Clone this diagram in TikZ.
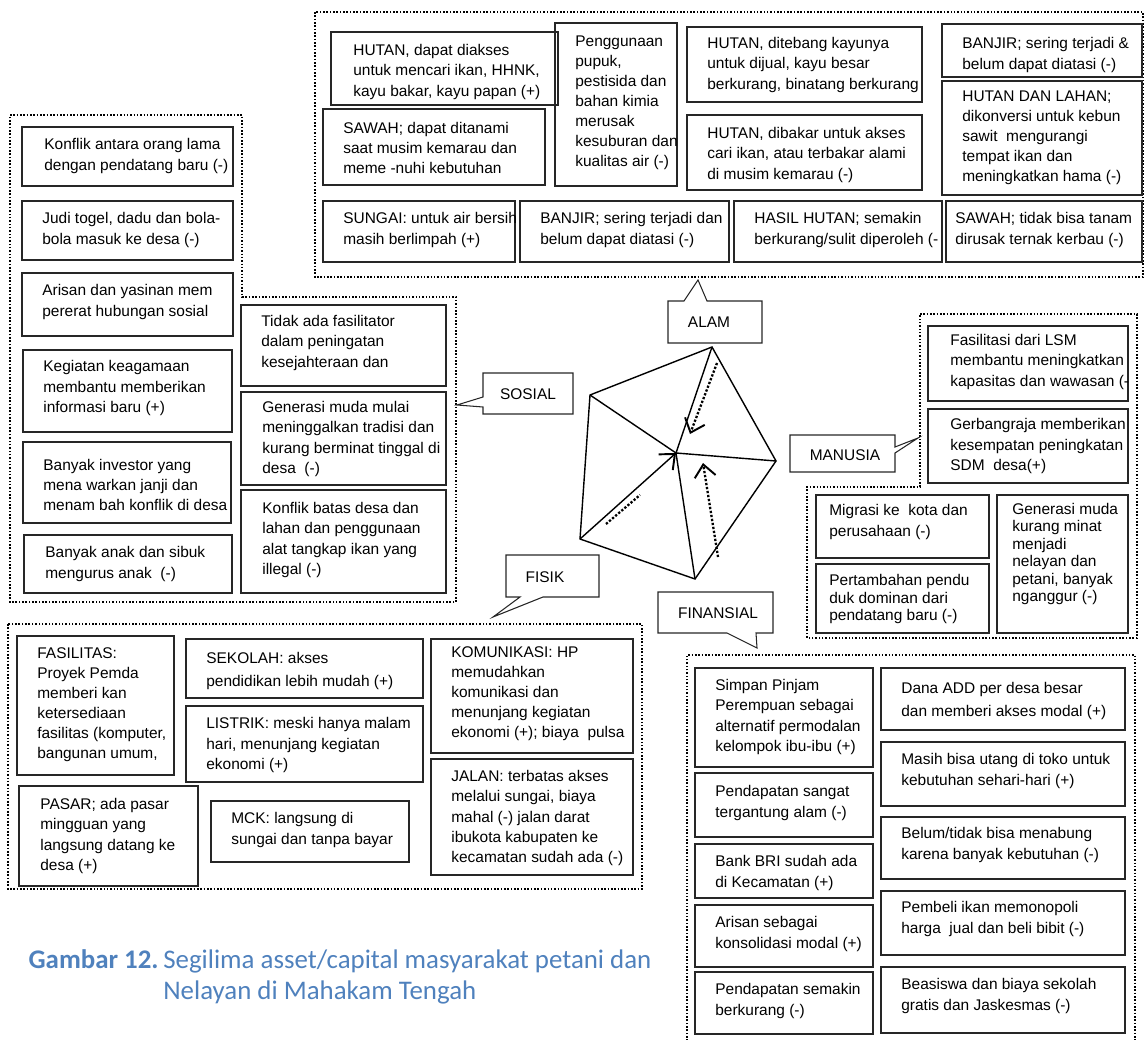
\documentclass[tikz,border=0pt]{standalone}
\usepackage{fontspec}
\setmainfont{Liberation Sans}
\newfontfamily\capfont{Carlito}
\usetikzlibrary{arrows.meta}
\definecolor{capblue}{HTML}{4F81BD}

\begin{document}
\begin{tikzpicture}[x=0.02cm,y=-0.02cm,
  grp/.style={densely dotted,line width=0.9pt},
  cell/.style={draw=black!85,line width=0.6pt},
  txt/.style={anchor=west,align=left,inner sep=0pt,font=\fontsize{8.8}{11.4}\selectfont},
  call/.style={draw=black!85,line width=0.6pt},
  lab/.style={inner sep=0pt,font=\fontsize{8.8}{11}\selectfont},
  pent/.style={line width=0.8pt},
  dots/.style={densely dotted,line width=1.3pt},
  barb/.style={-{Straight Barb[length=7pt,width=12pt,line width=1.1pt]}},
  captxt/.style={inner sep=0pt,text=capblue,font=\capfont\fontsize{15.3}{18}\selectfont}]
  \useasboundingbox (0,0) rectangle (1145,1040);
  % ALAM
  \draw[grp] (315,12) rectangle (1143,277);
  \draw[cell] (331,32) rectangle (558,105);
  \node[txt] (a1) at (353,72) {HUTAN, dapat diakses\\untuk mencari ikan, HHNK,\\kayu bakar, kayu papan (+)};
  \draw[cell] (323,109) rectangle (545,185);
  \node[txt] (a2) at (343,148) {SAWAH; dapat ditanami\\saat musim kemarau dan\\meme -nuhi kebutuhan};
  \draw[cell] (555,23) rectangle (677,186);
  \node[txt] (a3) at (575,103) {Penggunaan\\pupuk,\\pestisida dan\\bahan kimia\\merusak\\kesuburan dan\\kualitas air (-)};
  \draw[cell] (687,27) rectangle (922,102);
  \node[txt] (a4) at (707,65) {HUTAN, ditebang kayunya\\untuk dijual, kayu besar\\berkurang, binatang berkurang};
  \draw[cell] (687,115) rectangle (922,190);
  \node[txt] (a5) at (707,155) {HUTAN, dibakar untuk akses\\cari ikan, atau terbakar alami\\di musim kemarau (-)};
  \draw[cell] (942,24) rectangle (1142,77);
  \node[txt] (a6) at (962,55) {BANJIR; sering terjadi \&\\belum dapat diatasi (-)};
  \draw[cell] (942,81) rectangle (1142,195);
  \node[txt] (a7) at (962,138) {HUTAN DAN LAHAN;\\dikonversi untuk kebun\\sawit~ mengurangi\\tempat ikan dan\\meningkatkan hama (-)};
  \draw[cell] (323,201) rectangle (515,262);
  \node[txt] (a8) at (343,230) {SUNGAI: untuk air bersih\\masih berlimpah (+)};
  \draw[cell] (520,201) rectangle (729,262);
  \node[txt] (a9) at (540,230) {BANJIR; sering terjadi dan\\belum dapat diatasi (-)};
  \draw[cell] (734,201) rectangle (942,262);
  \node[txt] (a10) at (754,230) {HASIL HUTAN; semakin\\berkurang/sulit diperoleh (-};
  \draw[cell] (946,201) rectangle (1142,262);
  \node[txt] (a11) at (955,230) {SAWAH; tidak bisa tanam\\dirusak ternak kerbau (-)};
  % SOSIAL
  \draw[grp] (10,115) -- (242,115) -- (242,297) -- (456,297) -- (456,602) -- (10,602) -- cycle;
  \draw[cell] (22,127) rectangle (233,186);
  \node[txt] (s1) at (44,156) {Konflik antara orang lama\\dengan pendatang baru (-)};
  \draw[cell] (22,201) rectangle (233,260);
  \node[txt] (s2) at (42,230) {Judi togel, dadu dan bola-\\bola masuk ke desa (-)};
  \draw[cell] (22,273) rectangle (233,336);
  \node[txt] (s3) at (42,302) {Arisan dan yasinan mem\\pererat hubungan sosial};
  \draw[cell] (23,350) rectangle (232,432);
  \node[txt] (s4) at (43,388) {Kegiatan keagamaan\\membantu memberikan\\informasi baru (+)};
  \draw[cell] (23,442) rectangle (231,523);
  \node[txt] (s5) at (43,485) {Banyak investor yang\\mena warkan janji dan\\menam bah konflik di desa};
  \draw[cell] (24,535) rectangle (232,593);
  \node[txt] (s6) at (45,564) {Banyak anak dan sibuk\\mengurus anak~ (-)};
  \draw[cell] (241,305) rectangle (446,386);
  \node[txt] (s7) at (261,343) {Tidak ada fasilitator\\dalam peningatan\\kesejahteraan dan};
  \draw[cell] (241,392) rectangle (446,485);
  \node[txt] (s8) at (262,439) {Generasi muda mulai\\meninggalkan tradisi dan\\kurang berminat tinggal di\\desa~ (-)};
  \draw[cell] (241,490) rectangle (446,593);
  \node[txt] (s9) at (262,540) {Konflik batas desa dan\\lahan dan penggunaan\\alat tangkap ikan yang\\illegal (-)};
  % MANUSIA
  \draw[grp] (920,314) -- (1137,314) -- (1137,638) -- (807,638) -- (807,487) -- (920,487) -- cycle;
  \draw[cell] (928,326) rectangle (1128,401);
  \node[txt] (m1) at (950,362) {Fasilitasi dari LSM\\membantu meningkatkan\\kapasitas dan wawasan (-};
  \draw[cell] (928,409) rectangle (1128,483);
  \node[txt] (m2) at (950,446) {Gerbangraja memberikan\\kesempatan peningkatan\\SDM~ desa(+)};
  \draw[cell] (816,495) rectangle (989,558);
  \node[txt] (m3) at (829,522) {Migrasi ke~ kota dan\\perusahaan (-)};
  \draw[cell] (816,564) rectangle (989,633);
  \node[txt,font=\fontsize{8.8}{10.2}\selectfont] (m4) at (829,599) {Pertambahan pendu\\duk dominan dari\\pendatang baru (-)};
  \draw[cell] (997,495) rectangle (1128,633);
  \node[txt,font=\fontsize{8.8}{10}\selectfont] (m5) at (1012,554) {Generasi muda\\kurang minat\\menjadi\\nelayan dan\\petani, banyak\\nganggur (-)};
  % FISIK
  \draw[grp] (8,624) rectangle (642,889);
  \draw[cell] (17,636) rectangle (174,775);
  \node[txt] (f1) at (37,705) {FASILITAS:\\Proyek Pemda\\memberi kan\\ketersediaan\\fasilitas (komputer,\\bangunan umum,};
  \draw[cell] (186,639) rectangle (423,698);
  \node[txt,font=\fontsize{8.8}{13.4}\selectfont] (f2) at (206,671) {SEKOLAH: akses\\pendidikan lebih mudah (+)};
  \draw[cell] (186,706) rectangle (423,782);
  \node[txt] (f3) at (206,745) {LISTRIK: meski hanya malam\\hari, menunjang kegiatan\\ekonomi (+)};
  \draw[cell] (431,639) rectangle (633,753);
  \node[txt] (f4) at (451,694) {KOMUNIKASI: HP\\memudahkan\\komunikasi dan\\menunjang kegiatan\\ekonomi (+); biaya~ pulsa};
  \draw[cell] (19,786) rectangle (198,886);
  \node[txt] (f5) at (40,836) {PASAR; ada pasar\\mingguan yang\\langsung datang ke\\desa (+)};
  \draw[cell] (211,801) rectangle (409,862);
  \node[txt] (f6) at (231,830) {MCK: langsung di\\sungai dan tanpa bayar};
  \draw[cell] (431,759) rectangle (633,875);
  \node[txt] (f7) at (451,818) {JALAN: terbatas akses\\melalui sungai, biaya\\mahal (-) jalan darat\\ibukota kabupaten ke\\kecamatan sudah ada (-)};
  % FINANSIAL
  \draw[grp] (687,1041) -- (687,655) -- (1135,655) -- (1135,1041);
  \draw[cell] (695,668) rectangle (873,767);
  \node[txt] (n1) at (715,717) {Simpan Pinjam\\Perempuan sebagai\\alternatif permodalan\\kelompok ibu-ibu (+)};
  \draw[cell] (695,773) rectangle (873,837);
  \node[txt] (n2) at (715,803) {Pendapatan sangat\\tergantung alam (-)};
  \draw[cell] (695,844) rectangle (873,898);
  \node[txt] (n3) at (715,873) {Bank BRI sudah ada\\di Kecamatan (+)};
  \draw[cell] (695,905) rectangle (873,967);
  \node[txt] (n4) at (715,934) {Arisan sebagai\\konsolidasi modal (+)};
  \draw[cell] (695,972) rectangle (873,1034);
  \node[txt] (n5) at (715,1001) {Pendapatan semakin\\berkurang (-)};
  \draw[cell] (881,668) rectangle (1125,730);
  \node[txt,font=\fontsize{8.8}{13.4}\selectfont] (n6) at (901,701) {Dana ADD per desa besar\\dan memberi akses modal (+)};
  \draw[cell] (881,742) rectangle (1125,806);
  \node[txt] (n7) at (901,771) {Masih bisa utang di toko untuk\\kebutuhan sehari-hari (+)};
  \draw[cell] (881,817) rectangle (1125,879);
  \node[txt] (n8) at (901,845) {Belum/tidak bisa menabung\\karena banyak kebutuhan (-)};
  \draw[cell] (881,891) rectangle (1125,955);
  \node[txt,font=\fontsize{8.8}{12.4}\selectfont] (n9) at (901,919) {Pembeli ikan memonopoli\\harga~ jual dan beli bibit (-)};
  \draw[cell] (881,967) rectangle (1125,1033);
  \node[txt] (n10) at (901,996) {Beasiswa dan biaya sekolah\\gratis dan Jaskesmas (-)};
  % callouts
  \draw[call] (668,301) -- (684,301) -- (698,280) -- (707,301) -- (762,301) -- (762,343) -- (668,343) -- cycle;
  \node[lab] (alam) at (709,322) {ALAM};
  \draw[call] (483,373) -- (573,373) -- (573,414) -- (483,414) -- (483,407) -- (457,405) -- (483,397) -- cycle;
  \node[lab] (sosial) at (528,394) {SOSIAL};
  \draw[call] (790,435) -- (895,435) -- (895,447) -- (918,438) -- (895,453) -- (895,472) -- (790,472) -- cycle;
  \node[lab] (manusia) at (845,455) {MANUSIA};
  \draw[call] (506,555) -- (599,555) -- (599,597) -- (543,597) -- (493,617) -- (520,597) -- (506,597) -- cycle;
  \node[lab] (fisik) at (545,577) {FISIK};
  \draw[call] (658,592) -- (773,592) -- (773,633) -- (756,633) -- (757,648) -- (727,633) -- (658,633) -- cycle;
  \node[lab] (finansial) at (718,613) {FINANSIAL};
  % segilima
  \coordinate (top) at (712,347);
  \coordinate (lt) at (590,395);
  \coordinate (rt) at (776,461);
  \coordinate (lb) at (580,539);
  \coordinate (bot) at (695,579);
  \coordinate (ctr) at (676,453);
  \draw[pent] (lt) -- (top) -- (rt) -- (bot) -- (lb) -- cycle;
  \draw[pent] (ctr) -- (top);
  \draw[pent] (ctr) -- (lt);
  \draw[pent] (ctr) -- (rt);
  \draw[pent] (ctr) -- (bot);
  \draw[pent,barb] (lb) -- (ctr);
  \draw[dots,barb] (717,363) -- (690,434);
  \draw[dots] (606,524) -- (640,495);
  \draw[dots,barb] (718,557) -- (703,463);
  % caption
  \node[captxt,anchor=north east] (capnum) at (159,949) {\textbf{Gambar 12.}};
  \node[captxt,anchor=north west,align=left] (captext) at (163,949) {Segilima asset/capital masyarakat petani dan\\Nelayan di Mahakam Tengah};
\end{tikzpicture}
\end{document}
